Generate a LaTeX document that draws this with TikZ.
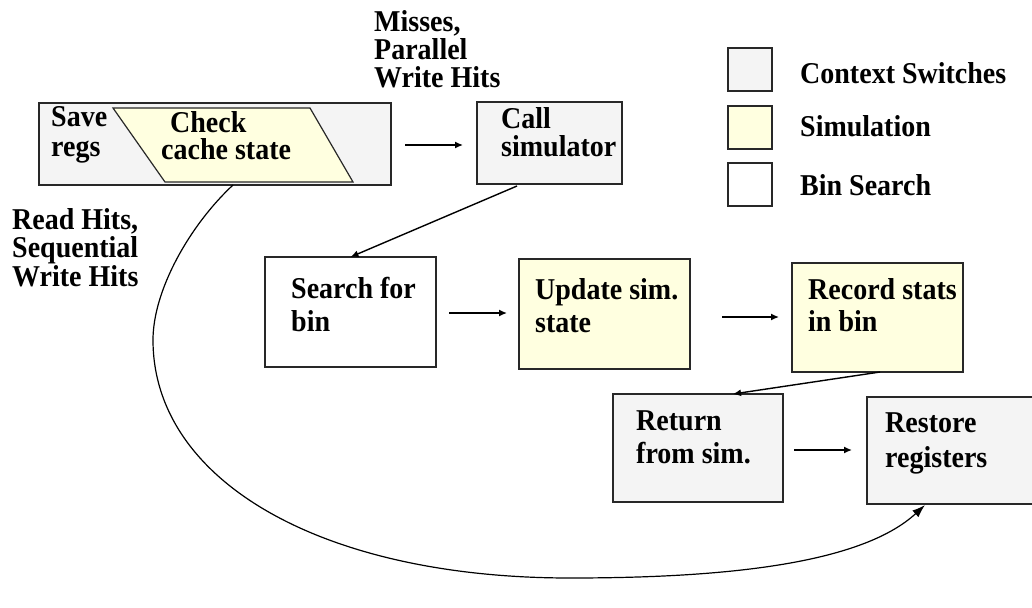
\documentclass[tikz,border=0pt]{standalone}
\usepackage{fontspec}
\setmainfont{Liberation Serif}
\usetikzlibrary{arrows.meta,calc}

\definecolor{ctxgray}{RGB}{244,244,244}
\definecolor{simyellow}{RGB}{255,255,224}
\definecolor{edge}{RGB}{40,40,40}

\tikzset{
  box/.style={draw=edge, line width=1.2pt, anchor=north west, inner sep=0pt, outer sep=0pt},
  % labels are placed by the baseline of their last line
  lbl/.style={font=\bfseries\fontsize{28}{#1}\selectfont, anchor=base west, inner sep=0pt,
              align=left, yscale=1.08, transform shape},
  flow/.style={line width=1.4pt, -{Latex[length=8pt,width=7pt]}},
  loop/.style={line width=1.2pt, -{Latex[length=13pt,width=9pt]}},
}

\begin{document}
\begin{tikzpicture}[x=1pt,y=-1pt]
\useasboundingbox (0,0) rectangle (1032,607);

% context switch around the cache check
\node[box, fill=ctxgray, minimum width=352pt, minimum height=82pt] (ctx) at (39,103) {};
\draw[draw=edge, line width=1.2pt, fill=simyellow]
  (113,108) -- (310,108) -- (353,182) -- (165,182) -- cycle;
\node[lbl=28] (savetxt) at (51,156.7) {Save\\regs};
\node[lbl=25] (checktxt) at (161,159) {\hspace*{9pt}Check\\cache state};

% simulator call
\node[box, fill=ctxgray, minimum width=145pt, minimum height=82pt] (call) at (477,102) {};
\node[lbl=26.3] (calltxt) at (501,156.7) {Call\\simulator};

% path labels
\node[lbl=25.7] (misses) at (374,87.3) {Misses,\\Parallel\\Write Hits};
\node[lbl=26] (reads) at (12,286) {Read Hits,\\Sequential\\Write Hits};

% legend
\node[box, fill=ctxgray, minimum width=44pt, minimum height=43pt] (lg1) at (728,48) {};
\node[box, fill=simyellow, minimum width=44pt, minimum height=43pt] (lg2) at (728,106) {};
\node[box, fill=white, minimum width=44pt, minimum height=43pt] (lg3) at (728,163) {};
\node[lbl=30] (lg1txt) at (800,83.3) {Context Switches};
\node[lbl=30] (lg2txt) at (800,136.7) {Simulation};
\node[lbl=30] (lg3txt) at (800,195.3) {Bin Search};

% simulation steps
\node[box, fill=white, minimum width=171pt, minimum height=110pt] (search) at (265,257) {};
\node[lbl=31] (searchtxt) at (291,331.7) {Search for\\bin};
\node[box, fill=simyellow, minimum width=171pt, minimum height=110pt] (update) at (519,259) {};
\node[lbl=30.5] (updatetxt) at (535,332) {Update sim.\\state};
\node[box, fill=simyellow, minimum width=171pt, minimum height=109pt] (record) at (792,263) {};
\node[lbl=30] (recordtxt) at (808,331.7) {Record stats\\in bin};
\node[box, fill=ctxgray, minimum width=170pt, minimum height=108pt] (ret) at (613,394) {};
\node[lbl=30.5] (rettxt) at (636,463) {Return\\from sim.};
\node[box, fill=ctxgray, minimum width=166pt, minimum height=107pt] (restore) at (867,397) {};
\node[lbl=31.5] (restoretxt) at (885,467) {Restore\\registers};

% connectors
\draw[flow] ($(ctx.east)+(14,1)$) -- ($(ctx.east)+(72,1)$);
\draw[flow] ($(call.south west)+(40,2)$) -- (search.north);
\draw[flow] ($(search.east)+(13,1)$) -- ($(update.west)+(-12,-1)$);
\draw[flow] ($(update.east)+(32,3)$) -- ($(record.west)+(-13,-0.5)$);
\draw[flow] ($(record.south west)+(88,0)$) -- ($(ret.north west)+(120,0)$);
\draw[flow] ($(ret.east)+(11,2)$) -- ($(restore.west)+(-15,-0.5)$);

\coordinate (loopstart) at ($(ctx.south west)+(194,0)$);
\coordinate (loopend) at ($(restore.south west)+(58,1)$);
\draw[loop] (loopstart) .. controls (190,225) and (153,290) .. (153,340)
  .. controls (153,480) and (320,578) .. (570,578)
  .. controls (720,578) and (860,565) .. (loopend);
\end{tikzpicture}
\end{document}
